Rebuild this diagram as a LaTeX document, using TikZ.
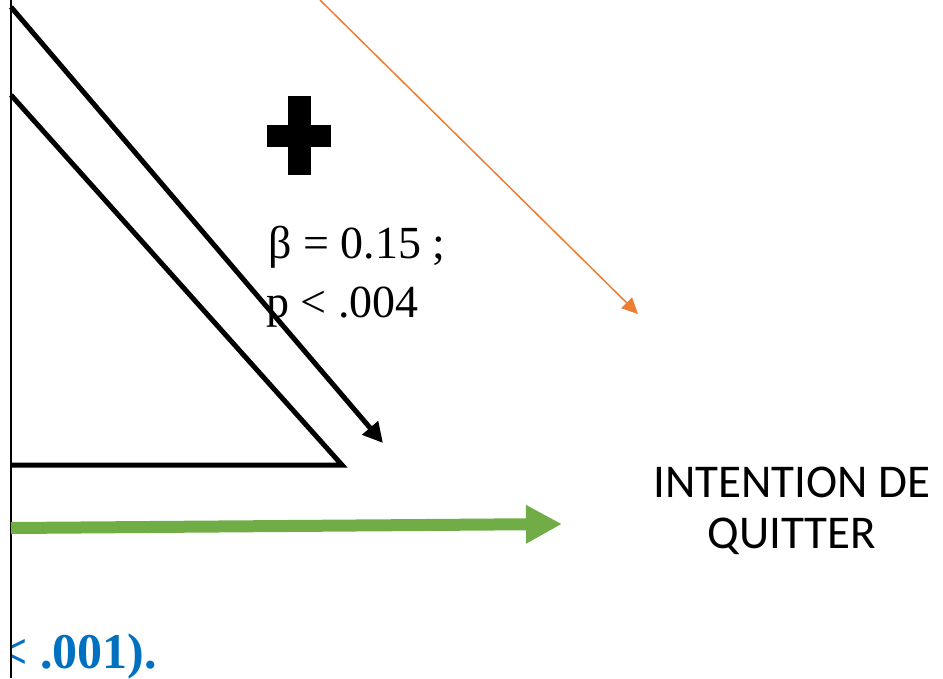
\documentclass[tikz,border=0pt]{standalone}
\usepackage{fontspec}
\setmainfont{Liberation Serif}
\newfontfamily\calib{Carlito}
\usetikzlibrary{arrows.meta}
\definecolor{greenA}{RGB}{112,173,71}
\definecolor{orangeA}{RGB}{237,125,49}
\definecolor{blueA}{RGB}{0,112,192}
\tikzset{
  thickline/.style={line width=5pt, black},
  txt/.style={inner sep=0pt, anchor=base west},
  lbl/.style={inner sep=0pt, anchor=base, font=\calib\fontsize{47}{52}\selectfont},
}
\begin{document}
\begin{tikzpicture}[x=1pt,y=-1pt]
\useasboundingbox (0,0) rectangle (943,678);
% coordinates
\coordinate (vtop) at (11,0);
\coordinate (vbot) at (11,678);
\coordinate (d1s) at (11,7);
\coordinate (d1e) at (383,443);
\coordinate (t1) at (11,95);
\coordinate (t2) at (342,465);
\coordinate (t3) at (11,465);
\coordinate (gs) at (11,528);
\coordinate (ge) at (562,524);
\coordinate (os) at (320,0);
\coordinate (oe) at (638,314);
% vertical line
\draw[line width=2pt] (vtop) -- (vbot);
% black arrow
\draw[thickline, -{Triangle[length=20pt,width=20pt]}] (d1s) -- (d1e);
% triangle
\draw[thickline, line join=miter] (t1) -- (t2) -- (t3);
% green arrow
\draw[greenA, line width=12pt, -{Triangle[length=36pt,width=36pt]}] (gs) -- (ge);
% orange arrow
\draw[orangeA, line width=1.5pt, -{Triangle[length=16pt,width=15pt]}] (os) -- (oe);
% plus sign
\fill[black] (288,96) rectangle (311,175);
\fill[black] (267,125) rectangle (331,147);
% texts
\node[txt, font=\fontsize{46}{52}\selectfont] (beta) at (268,258) {β = 0.15 ;};
\node[txt, font=\fontsize{46}{52}\selectfont] (pval) at (266,317) {p < .004};
\node[lbl] (int1) at (792,497) {INTENTION DE};
\node[lbl] (int2) at (792,548) {QUITTER};
\begin{scope}
\clip (12,0) rectangle (943,678);
\node[txt, font=\bfseries\fontsize{50}{60}\selectfont, text=blueA] (blue) at (-1,668) {< .001).};
\end{scope}
\end{tikzpicture}
\end{document}
